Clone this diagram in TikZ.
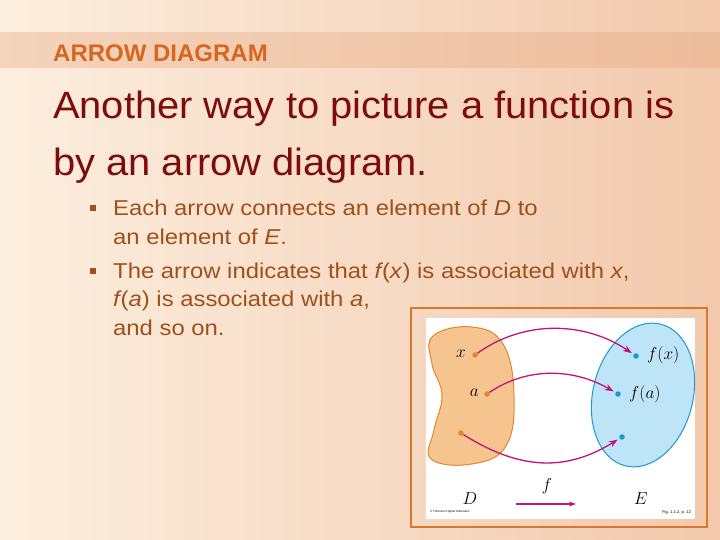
\documentclass[tikz,border=0pt]{standalone}
\usepackage{fontspec}
\setmainfont{Liberation Sans}
\newfontfamily\bulfont[FakeStretch=1.11]{Liberation Sans}
\newfontfamily\ttlfont[FakeStretch=1.05]{Liberation Sans}
\usetikzlibrary{arrows.meta}
\definecolor{bgL}{HTML}{FCEEDF}
\definecolor{bgR}{HTML}{F2C9AC}
\definecolor{band}{HTML}{E6A47C}
\definecolor{hdr}{HTML}{D8661E}
\definecolor{ttl}{HTML}{7E0C0C}
\definecolor{bul}{HTML}{A0501A}
\definecolor{frame}{HTML}{D9772E}
\definecolor{dfill}{HTML}{F6C48E}
\definecolor{dline}{HTML}{E0882E}
\definecolor{efill}{HTML}{BEE4F8}
\definecolor{eline}{HTML}{1E98D4}
\definecolor{arr}{HTML}{C2137C}
\newcommand{\itf}{\textit{f}\kern-1.2pt}
\tikzset{
  hdrtext/.style={anchor=base west, inner sep=0pt, text=hdr, font=\fontsize{24}{24}\selectfont\bfseries},
  ttltext/.style={anchor=base west, inner sep=0pt, text=ttl, font=\ttlfont\fontsize{38}{40}\selectfont},
  bultext/.style={anchor=base west, inner sep=0pt, text=bul, font=\bulfont\fontsize{21.5}{21.5}\selectfont},
  bulmark/.style={fill=bul, minimum size=5.5pt, inner sep=0pt, draw=none},
  ddot/.style={circle, fill=dline, minimum size=5.5pt, inner sep=0pt},
  edot/.style={circle, fill=eline, minimum size=5.5pt, inner sep=0pt},
  maparrow/.style={draw=arr, line width=1.3pt, -{Stealth[length=9pt,width=6.5pt]}, shorten >=2pt, shorten <=0pt},
  figlabel/.style={inner sep=0pt, font=\fontsize{18}{18}\selectfont},
}
\begin{document}
\begin{tikzpicture}[x=1pt,y=-1pt]
\useasboundingbox (0,0) rectangle (720,540);
% background
\shade[left color=bgL, right color=bgR] (0,0) rectangle (720,540);
\fill[band, opacity=0.35] (0,32) rectangle (720,68);
% header
\node[hdrtext] (hdr) at (53,62) {ARROW DIAGRAM};
% title
\node[ttltext] (t1) at (53,119) {Another way to picture a function is};
\node[ttltext] (t2) at (53,176) {by an arrow diagram.};
% bullets
\node[bulmark] (b1) at (93,208) {};
\node[bultext] (l1) at (113,215) {Each arrow connects an element of \textit{D} to};
\node[bultext] (l2) at (113,244) {an element of \textit{E}.};
\node[bulmark] (b2) at (93,271) {};
\node[bultext] (l3) at (113,278) {The arrow indicates that \itf(\textit{x}) is associated with \textit{x},};
\node[bultext] (l4) at (113,306) {\itf(\textit{a}) is associated with \textit{a},};
\node[bultext] (l5) at (113,335) {and so on.};
% picture frame
\draw[frame, line width=1.2pt] (411,308) rectangle (707,527);
\fill[white] (426,318) rectangle (695,519);
% set D
\filldraw[fill=dfill, draw=dline, line width=1pt]
  plot[smooth cycle, tension=0.7] coordinates {(433,336) (472,327) (503,344) (514,395) (506,446) (472,464) (431,459) (434,430) (442,395) (432,364)};
% set E
\filldraw[fill=efill, draw=eline, line width=1pt, rotate around={-14:(643,395)}] (643,395) ellipse [x radius=50, y radius=73];
% points
\node[ddot] (dx) at (475,355) {};
\node[ddot] (da) at (487,394) {};
\node[ddot] (dz) at (461,433) {};
\node[edot] (ex) at (636,356) {};
\node[edot] (ea) at (618,394) {};
\node[edot] (ez) at (622,437) {};
% labels
\node[figlabel, anchor=east] (lx) at (466,354) {$x$};
\node[figlabel, anchor=east] (la) at (479,393) {$a$};
\node[figlabel, anchor=west] (lfx) at (647,355) {$f(x)$};
\node[figlabel, anchor=west] (lfa) at (629,394) {$f(a)$};
% arrows
\draw[maparrow] (dx) .. controls +(50,-36) and +(-50,-34) .. (ex);
\draw[maparrow] (da) .. controls +(40,-27) and +(-45,-26) .. (ea);
\draw[maparrow] (dz) .. controls +(60,38) and +(-55,34) .. (ez);
% bottom
\node[figlabel, anchor=base] (lD) at (470,504) {$D$};
\node[figlabel, anchor=base] (lE) at (641,504) {$E$};
\node[figlabel, anchor=base] (lf) at (547,490) {$f$};
\coordinate (fa) at (516,504);
\coordinate (fb) at (576,504);
\draw[draw=arr, line width=1.2pt, -{Stealth[length=7pt,width=5pt]}] (fa) -- (fb);
\node[anchor=west, inner sep=0pt, font=\fontsize{3}{3}\selectfont] (cr) at (430,512) {\textcopyright\ Thomson Higher Education};
\node[anchor=east, inner sep=0pt, font=\fontsize{4}{4}\selectfont] (fg) at (691,512) {Fig. 1.1.2, p. 12};
\end{tikzpicture}
\end{document}
